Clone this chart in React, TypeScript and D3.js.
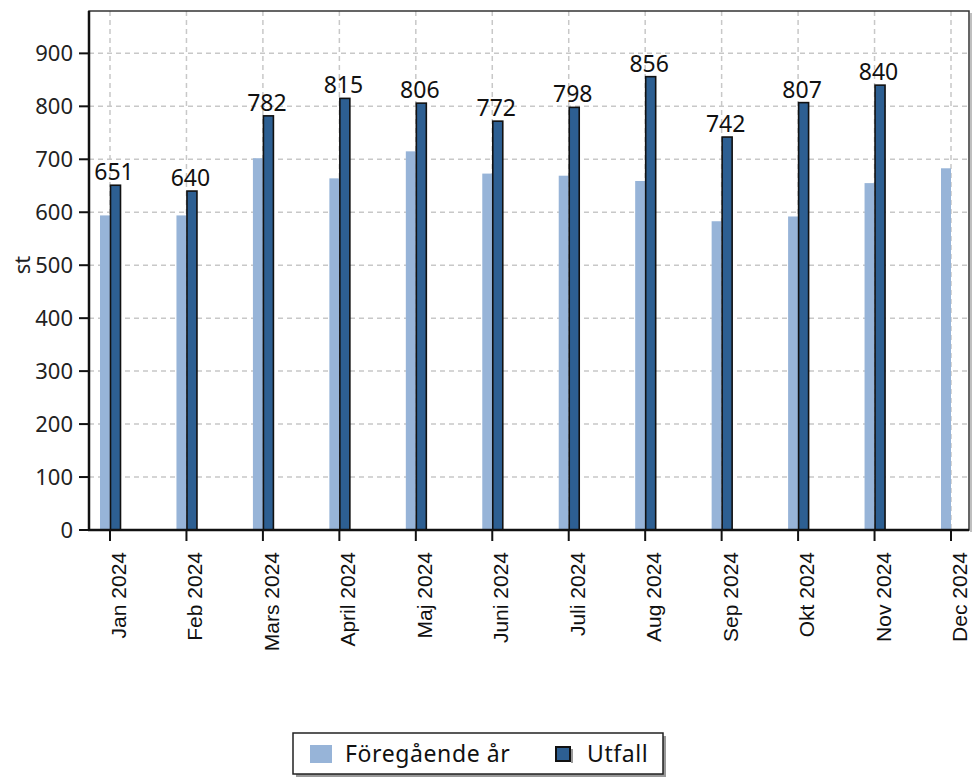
import React from 'react';
import * as d3 from 'd3';

const months = ['Jan 2024', 'Feb 2024', 'Mars 2024', 'April 2024', 'Maj 2024', 'Juni 2024', 'Juli 2024', 'Aug 2024', 'Sep 2024', 'Okt 2024', 'Nov 2024', 'Dec 2024'];
const previousYear = [594, 594, 702, 664, 715, 673, 669, 659, 583, 592, 655, 683];
const outcome: (number | null)[] = [651, 640, 782, 815, 806, 772, 798, 856, 742, 807, 840, null];
const yTicks = [0, 100, 200, 300, 400, 500, 600, 700, 800, 900];

const W = 973;
const H = 778;
const left = 89;
const right = 969;
const top = 11;
const bottom = 530;

const LIGHT = '#97b4d8';
const DARK = '#2d5f92';
const numFont = '"Noto Sans", "Open Sans", sans-serif';
const labelFont = '"Liberation Sans", Arial, sans-serif';

export default function App() {
  const x = d3.scalePoint<string>().domain(months).range([left + 21, right - 18]);
  const y = d3.scaleLinear().domain([0, 980]).range([bottom, top]);

  return (
    <div style={{ position: 'absolute', left: 0, top: 0 }}>
      <svg width={W} height={H} style={{ display: 'block', background: '#fff' }}>
        {/* grid */}
        {yTicks.filter(t => t > 0).map(t => (
          <line key={'gy' + t} x1={left} x2={right} y1={y(t)} y2={y(t)}
            stroke="#c8c8c8" strokeWidth={1.5} strokeDasharray="5,4" />
        ))}
        {months.map(m => (
          <line key={'gx' + m} x1={x(m)} x2={x(m)} y1={top} y2={bottom}
            stroke="#c8c8c8" strokeWidth={1.5} strokeDasharray="5,4" />
        ))}

        {/* bars */}
        {months.map((m, i) => (
          <g key={m}>
            <rect x={(x(m) as number) - 10} width={10} y={y(previousYear[i])}
              height={bottom - y(previousYear[i])} fill={LIGHT} />
            {outcome[i] != null && (
              <rect x={(x(m) as number) + 0.5} width={10} y={y(outcome[i] as number)}
                height={bottom - y(outcome[i] as number)} fill={DARK}
                stroke="#111" strokeWidth={1.6} />
            )}
            {outcome[i] != null && (
              <text x={(x(m) as number) + 4} y={y(outcome[i] as number) - 5}
                textAnchor="middle" fontFamily={numFont} fontSize={23} fill="#111">
                {outcome[i]}
              </text>
            )}
          </g>
        ))}

        {/* frame */}
        <rect x={left} y={top} width={right - left} height={bottom - top}
          fill="none" stroke="#333" strokeWidth={1.5} />
        <line x1={left} x2={left} y1={top} y2={bottom + 1} stroke="#111" strokeWidth={2.5} />
        <line x1={left - 1} x2={right} y1={bottom} y2={bottom} stroke="#111" strokeWidth={2.5} />
        <line x1={right + 2} x2={right + 2} y1={top + 2} y2={bottom + 2} stroke="#aaa" strokeWidth={1.5} />

        {/* y axis */}
        {yTicks.map(t => (
          <g key={'yt' + t}>
            <line x1={left - 10} x2={left} y1={y(t)} y2={y(t)} stroke="#111" strokeWidth={2} />
            <text x={left - 16} y={y(t)} dy="0.36em" textAnchor="end"
              fontFamily={numFont} fontSize={22} fill="#222">{t}</text>
          </g>
        ))}
        <text transform={`translate(30,265) rotate(-90)`} textAnchor="middle"
          fontFamily={numFont} fontSize={22} fill="#222">st</text>

        {/* x axis */}
        {months.map(m => (
          <g key={'xt' + m}>
            <line x1={x(m)} x2={x(m)} y1={bottom} y2={bottom + 11} stroke="#111" strokeWidth={2} />
            <text transform={`translate(${(x(m) as number) + 16},${bottom + 22}) rotate(-90)`}
              textAnchor="end" fontFamily={labelFont} fontSize={21} fill="#111">{m}</text>
          </g>
        ))}

        {/* legend */}
        <rect x={296} y={736} width={370} height={41} fill="#999" />
        <rect x={293} y={733} width={370} height={41} fill="#fff" stroke="#222" strokeWidth={1.5} />
        <rect x={310} y={745} width={22} height={18} fill={LIGHT} />
        <text x={345} y={762} fontFamily={numFont} fontSize={23} letterSpacing={0.6} fill="#111">Föregående år</text>
        <rect x={556} y={747} width={14} height={14} fill={DARK} stroke="#111" strokeWidth={2} />
        <rect x={571} y={749} width={2} height={14} fill="#999" />
        <text x={587} y={762} fontFamily={numFont} fontSize={23} letterSpacing={0.6} fill="#111">Utfall</text>
      </svg>
    </div>
  );
}
